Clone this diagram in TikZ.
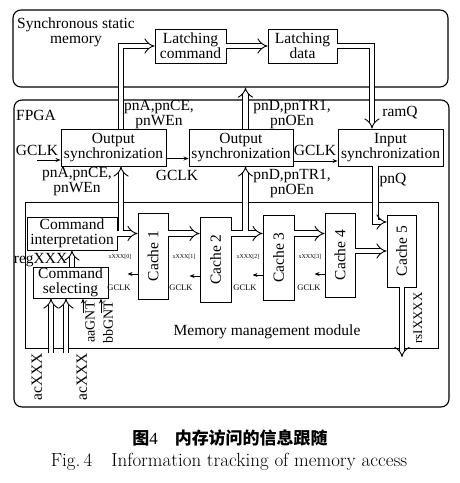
\documentclass[tikz,border=0pt]{standalone}
\usepackage{fontspec}
\setmainfont{Liberation Serif}
\newfontfamily\cjk{Noto Sans CJK SC}
\usetikzlibrary{arrows.meta}
\newcommand\fs{\fontsize{15.5}{15}\selectfont}
\tikzset{
	frame/.style={draw, line width=1.1pt, rounded corners=8pt},
	blk/.style={draw, line width=0.9pt, align=center, inner sep=1pt, font=\fs},
	lbl/.style={align=center, inner sep=0.5pt, font=\fs},
	small/.style={inner sep=0pt, font=\fontsize{8.5}{9}\selectfont},
	tiny/.style={inner sep=0pt, font=\fontsize{6}{6}\selectfont},
	bus/.style={double, double distance=4.5pt, line width=0.9pt, -{Implies}},
	sig/.style={line width=0.8pt, -{Stealth[length=5pt,width=4pt]}}
}

\begin{document}
\begin{tikzpicture}[x=1pt, y=-1pt]
			%%%%% START %%%%%
			\useasboundingbox (0,0) rectangle (460,483);
			
			% frames
			\node[frame, minimum width=435, minimum height=77] (sram) at (230.5, 48.5) {};
			\node[frame, minimum width=435, minimum height=307] (fpga) at (231.5, 253.5) {};
			\node[draw, line width=0.9pt, minimum width=413, minimum height=146] (mmm) at (231.5, 275) {};
			
			\node[lbl] (tsram) at (76, 32) {Synchronous static\\memory};
			\node[lbl] (tfpga) at (36, 115) {FPGA};
			\node[lbl] (tmmm) at (267, 332) {Memory management module};
			
			% memory side
			\node[blk, minimum width=71, minimum height=34] (latchc) at (190.5, 46) {Latching\\command};
			\node[blk, minimum width=69, minimum height=34] (latchd) at (302.5, 46) {Latching\\data};
			
			% synchronization
			\node[blk, minimum width=105, minimum height=37] (out1) at (113.5, 147.5) {Output\\synchronization};
			\node[blk, minimum width=104, minimum height=37] (out2) at (241, 147.5) {Output\\synchronization};
			\node[blk, minimum width=105, minimum height=37] (insync) at (390.5, 147.5) {Input\\synchronization};
			
			% command blocks
			\node[blk, minimum width=90, minimum height=33] (cmdint) at (72, 233.5) {Command\\interpretation};
			\node[blk, minimum width=75, minimum height=31] (cmdsel) at (70.5, 282.5) {Command\\selecting};
			
			% caches
			\node[blk, minimum width=30, minimum height=86] (cache1) at (153, 256) {\rotatebox{90}{Cache 1}};
			\node[blk, minimum width=31, minimum height=85] (cache2) at (215.5, 259.5) {\rotatebox{90}{Cache 2}};
			\node[blk, minimum width=31, minimum height=85] (cache3) at (278.5, 257.5) {\rotatebox{90}{Cache 3}};
			\node[blk, minimum width=30, minimum height=84] (cache4) at (340, 255) {\rotatebox{90}{Cache 4}};
			\node[blk, minimum width=29, minimum height=72] (cache5) at (401.5, 251) {\rotatebox{90}{Cache 5}};
			
			% buses
			\draw[bus] (121,0 |- out1.north) |- (latchc.west);
			\draw[bus] (latchc) -- (latchd);
			\draw[bus] (latchd.east) -| (372,0 |- insync.north);
			\draw[bus] (245.5,0 |- out2.north) -- (245.5,0 |- sram.south);
			\draw[bus] (cmdint.east) -- (cmdint.east -| cache1.west);
			\draw[bus] (121, 231.25) -- (121,0 |- out1.south);
			\foreach \a/\b in {1/2, 2/3, 3/4}
				\draw[bus] (cache\a.east |- cmdint.east) -- (cache\b.west |- cmdint.east);
			\draw[bus] (245.5, 231.25) -- (245.5,0 |- out2.south);
			\draw[bus] (cache4.east |- cache5.west) -- (cache5.west);
			\draw[bus] (375.5,0 |- insync.south) |- (cache5.west |- 0,222);
			\coordinate (rsout) at (402, 357);
			\draw[bus] (402,0 |- cache5.south) -- (rsout);
			\draw[bus] (cmdsel.north -| 72,0) -- (cmdint.south -| 72,0);
			\coordinate (ac1) at (51, 353);
			\coordinate (ac2) at (66, 353);
			\draw[bus] (ac1) -- (ac1 |- cmdsel.south);
			\draw[bus] (ac2) -- (ac2 |- cmdsel.south);
			
			% clocks and grants
			\coordinate (gin) at (37, 160);
			\draw[sig] (gin) -- (gin -| out1.west);
			\draw[sig] ([yshift=-11pt]out1.east) -- ([yshift=-11pt]out2.west);
			\draw[sig] ([yshift=-13.5pt]out2.east) -- ([yshift=-13.5pt]insync.west);
			\foreach \i/\yy in {1/274, 2/276, 3/275, 4/274}
				\draw[sig] (cache\i.west |- 0,\yy) -- ++(-10,0);
			\coordinate (ga) at (83, 313);
			\coordinate (gb) at (101, 313);
			\draw[sig] (ga) -- (ga |- cmdsel.south);
			\draw[sig] (gb) -- (gb |- cmdsel.south);
			
			% labels
			\node[lbl] (gclka) at (37, 150) {GCLK};
			\node[lbl] (gclkb) at (177, 175) {GCLK};
			\node[lbl] (gclkc) at (315, 150) {GCLK};
			\node[lbl] (ramq) at (400, 113) {ramQ};
			\node[lbl] (pnq) at (393, 180) {pnQ};
			\node[lbl] (pna1) at (159, 115) {pnA,pnCE,\\pnWEn};
			\node[lbl] (pna2) at (77, 182) {pnA,pnCE,\\pnWEn};
			\node[lbl] (pnd1) at (292, 115) {pnD,pnTR1,\\pnOEn};
			\node[lbl] (pnd2) at (292, 184) {pnD,pnTR1,\\pnOEn};
			\node[lbl, anchor=east] (reg) at (68, 260) {regXXX};
			\node[lbl, rotate=90] (tac1) at (37, 377) {acXXX};
			\node[lbl, rotate=90] (tac2) at (82, 377) {acXXX};
			\node[lbl, rotate=90, font=\fontsize{14}{14}\selectfont] (taa) at (90, 322) {aaGNT};
			\node[lbl, rotate=90, font=\fontsize{14}{14}\selectfont] (tbb) at (108, 322) {bbGNT};
			\node[lbl, rotate=90, font=\fontsize{13}{13}\selectfont] (trs) at (418, 318) {rsIXXXX};
			\foreach \i/\xx in {0/120, 1/184, 2/248, 3/310}
				\node[tiny] (x\i) at (\xx, 257) {xXXX[\i]};
			\foreach \i/\xx in {1/119, 2/181, 3/245, 4/309}
				\node[small] (g\i) at (\xx, 288) {GCLK};
			
			% caption
			\node[inner sep=0pt, font=\fontsize{17}{17}\selectfont] (capcn) at (230, 438) {{\cjk\bfseries 图}4\quad{\cjk\bfseries 内存访问的信息跟随}};
			\node[inner sep=0pt, font=\fontsize{19}{19}\fontfamily{lmr}\selectfont] (capen) at (229, 462) {Fig.\,4\quad Information tracking of memory access};
			
			%%%%% END %%%%%
\end{tikzpicture}
\end{document}
